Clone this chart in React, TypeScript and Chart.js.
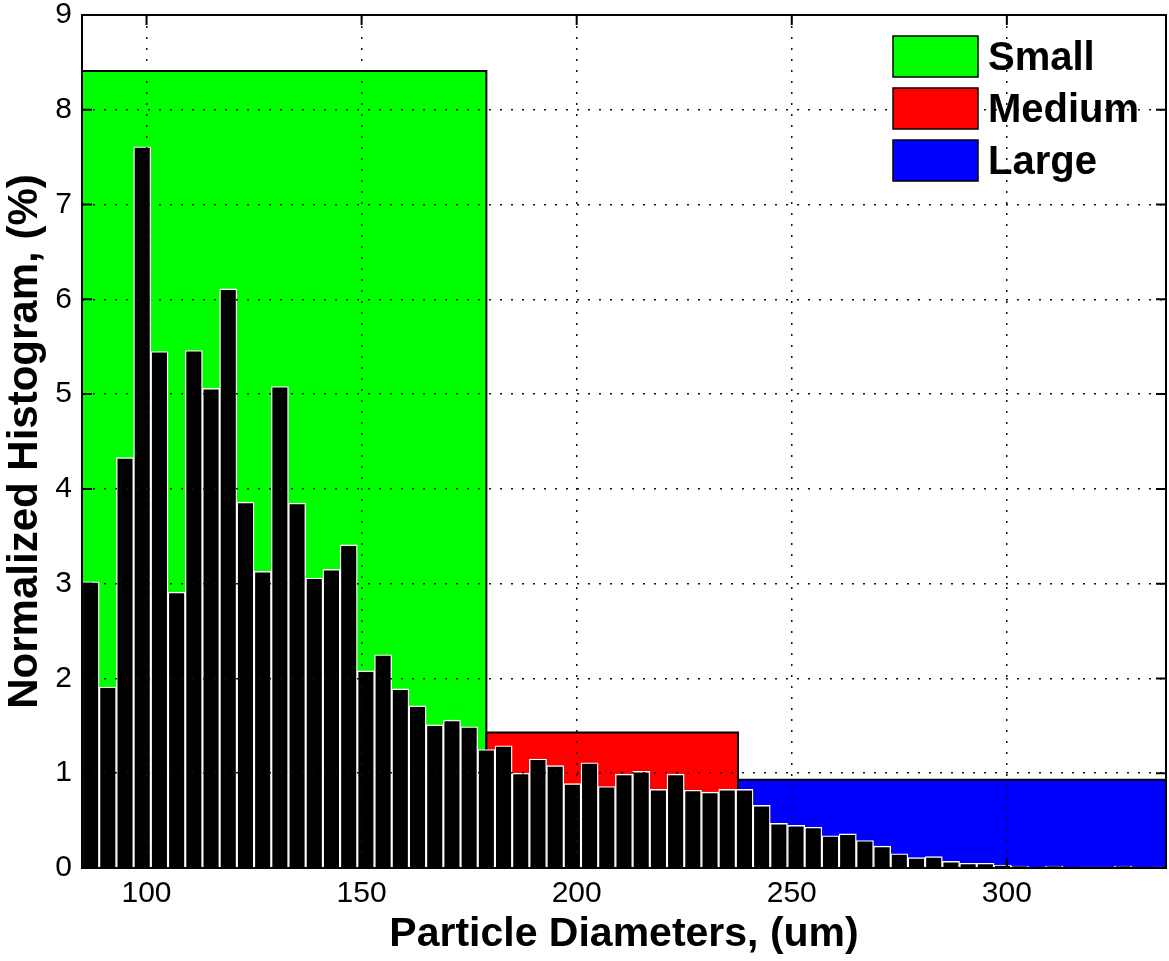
import React, { useEffect, useRef } from "react";
import { Chart, registerables } from "chart.js";

Chart.register(...registerables);

// Histogram bin centres (um), 4 um wide bins
const binCenters = [
  87, 91, 95, 99, 103, 107, 111, 115, 119, 123,
  127, 131, 135, 139, 143, 147, 151, 155, 159, 163,
  167, 171, 175, 179, 183, 187, 191, 195, 199, 203,
  207, 211, 215, 219, 223, 227, 231, 235, 239, 243,
  247, 251, 255, 259, 263, 267, 271, 275, 279, 283,
  287, 291, 295, 299, 303, 307, 311, 315, 319, 323,
  327, 331, 335,
];

// Normalized histogram (%)
const histValues = [
  3.02, 1.91, 4.33, 7.61, 5.45, 2.91, 5.46, 5.06, 6.11, 3.86,
  3.13, 5.08, 3.85, 3.06, 3.15, 3.41, 2.08, 2.25, 1.89, 1.71,
  1.51, 1.56, 1.49, 1.25, 1.29, 1.0, 1.15, 1.08, 0.89, 1.11,
  0.86, 0.99, 1.02, 0.83, 0.99, 0.82, 0.8, 0.83, 0.83, 0.66,
  0.47, 0.45, 0.43, 0.34, 0.36, 0.29, 0.23, 0.15, 0.11, 0.12,
  0.07, 0.05, 0.05, 0.03, 0.02, 0.005, 0.02, 0.0, 0.01, 0.01,
  0.02, 0.0, 0.01,
];

// Size classes
const regionLabels = ["Small", "Medium", "Large"];
const regionColors = ["#00ff00", "#ff0000", "#0000ff"];
const regionEdges = [85, 179, 237.5, 337];
const regionHeights = [8.41, 1.43, 0.93];

const xTicks = [100, 150, 200, 250, 300];
const yTicks = [0, 1, 2, 3, 4, 5, 6, 7, 8, 9];

const FONT = "'Liberation Sans', Arial, Helvetica, sans-serif";

const framePlugin = {
  id: "frameAndTicks",
  afterDraw(chart: any) {
    const { ctx, chartArea } = chart;
    const xs = chart.scales.x;
    const ys = chart.scales.y;
    const { left, right, top, bottom } = chartArea;
    ctx.save();
    ctx.strokeStyle = "#000";
    ctx.lineWidth = 2;
    ctx.strokeRect(left, top, right - left, bottom - top);
    const tl = 10;
    ctx.beginPath();
    yTicks.forEach((v) => {
      const y = ys.getPixelForValue(v);
      ctx.moveTo(left, y);
      ctx.lineTo(left + tl, y);
      ctx.moveTo(right, y);
      ctx.lineTo(right - tl, y);
    });
    xTicks.forEach((v) => {
      const x = xs.getPixelForValue(v);
      ctx.moveTo(x, bottom);
      ctx.lineTo(x, bottom - tl);
      ctx.moveTo(x, top);
      ctx.lineTo(x, top + tl);
    });
    ctx.stroke();

    // legend
    const sw = 85;
    const sh = 41;
    const sx = right - 273;
    const sy0 = top + 21;
    const gap = 52;
    ctx.font = `bold 40px ${FONT}`;
    ctx.textBaseline = "middle";
    ctx.textAlign = "left";
    const ds = chart.data.datasets.filter((d: any) => d.isRegion);
    ds.forEach((d: any, i: number) => {
      const y = sy0 + i * gap;
      ctx.fillStyle = d.backgroundColor;
      ctx.fillRect(sx, y, sw, sh);
      ctx.lineWidth = 1.5;
      ctx.strokeStyle = "#000";
      ctx.strokeRect(sx, y, sw, sh);
      ctx.fillStyle = "#000";
      ctx.fillText(d.label, sx + sw + 10, y + sh / 2 + 2);
    });
    ctx.restore();
  },
};

export default function App() {
  const ref = useRef<HTMLCanvasElement | null>(null);

  useEffect(() => {
    document.body.style.margin = "0";
    const canvas = ref.current;
    if (!canvas) return;

    const regionDatasets = regionLabels.map((label, i) => ({
      type: "line" as const,
      label,
      isRegion: true,
      data: [
        { x: regionEdges[i], y: 0 },
        { x: regionEdges[i], y: regionHeights[i] },
        { x: regionEdges[i + 1], y: regionHeights[i] },
        { x: regionEdges[i + 1], y: 0 },
      ],
      backgroundColor: regionColors[i],
      borderColor: "#000",
      borderWidth: 2,
      fill: "origin",
      pointRadius: 0,
      tension: 0,
      borderJoinStyle: "miter" as const,
      order: 10 - i,
    }));

    const chart = new Chart(canvas, {
      type: "bar",
      data: {
        datasets: [
          ...regionDatasets,
          {
            type: "bar" as const,
            label: "Histogram",
            data: binCenters.map((x, i) => ({ x, y: histValues[i] })),
            backgroundColor: "#000",
            borderColor: "#ffffff",
            borderWidth: 1.4,
            barPercentage: 1,
            categoryPercentage: 1,
            order: 1,
          } as any,
        ],
      },
      options: {
        responsive: false,
        animation: false,
        events: [],
        layout: { padding: { left: 0, right: 3, top: 15, bottom: 0 } },
        plugins: {
          legend: { display: false },
          tooltip: { enabled: false },
        },
        scales: {
          x: {
            type: "linear",
            min: 85,
            max: 337,
            offset: false,
            afterBuildTicks: (s: any) => {
              s.ticks = xTicks.map((v) => ({ value: v }));
            },
            afterFit: (s: any) => {
              s.height = 93;
              s.paddingLeft = 0;
              s.paddingRight = 0;
            },
            grid: {
              color: "#111",
              lineWidth: 1.5,
              drawTicks: false,
              offset: false,
              z: 1,
            },
            border: { display: false, dash: [2, 9] },
            ticks: {
              color: "#000",
              padding: 8,
              font: { family: FONT, size: 30 },
              maxRotation: 0,
            },
            title: {
              display: true,
              text: "Particle Diameters, (um)",
              color: "#000",
              font: { family: FONT, size: 41, weight: "bold" },
              padding: { top: 0, bottom: 2 },
            },
          },
          y: {
            type: "linear",
            min: 0,
            max: 9,
            afterBuildTicks: (s: any) => {
              s.ticks = yTicks.map((v) => ({ value: v }));
            },
            afterFit: (s: any) => {
              s.width = 82;
              s.paddingTop = 0;
              s.paddingBottom = 0;
            },
            grid: {
              color: "#111",
              lineWidth: 1.5,
              drawTicks: false,
              z: 1,
            },
            border: { display: false, dash: [2, 9] },
            ticks: {
              color: "#000",
              padding: 10,
              font: { family: FONT, size: 30 },
            },
            title: {
              display: true,
              text: "Normalized Histogram, (%)",
              color: "#000",
              font: { family: FONT, size: 42, weight: "bold" },
              padding: { top: 0, bottom: 0 },
            },
          },
        },
      } as any,
      plugins: [framePlugin],
    });

    return () => {
      chart.destroy();
    };
  }, []);

  return (
    <div style={{ width: 1169, height: 961 }}>
      <canvas
        ref={ref}
        width={1169}
        height={961}
        style={{ display: "block", width: 1169, height: 961 }}
      />
    </div>
  );
}
